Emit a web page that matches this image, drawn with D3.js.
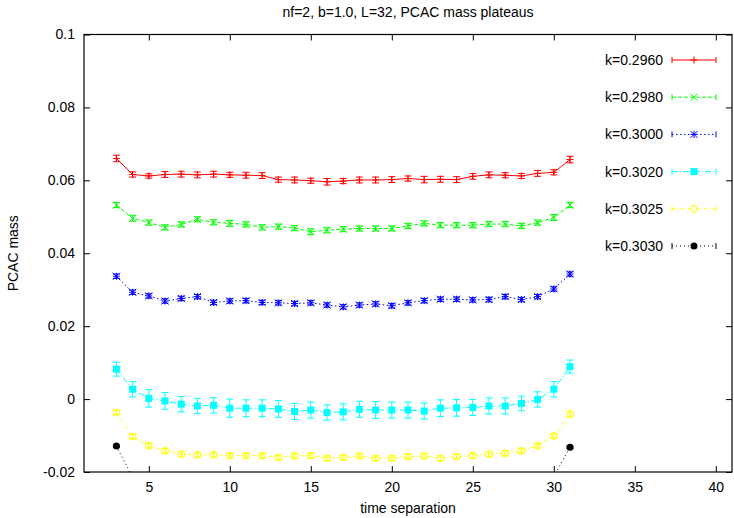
<!doctype html>
<html lang="en">

<head>
    <meta charset="UTF-8" />
    <title>PCAC mass plateaus</title>
    <script src="https://d3js.org/d3.v7.min.js"></script>
    <style>
        body,
        html {
            margin: 0;
            padding: 0;
            background: #ffffff;
        }

        svg {
            display: block;
            font-family: "Liberation Sans", Arial, sans-serif;
        }

        .axis text {
            font-size: 14px;
            fill: #000;
        }

        .axis line {
            stroke: #000;
        }
    </style>
</head>

<body>
    <svg id="chart" width="734" height="518"></svg>
    <script>
        // time separations
        const times = [3, 4, 5, 6, 7, 8, 9, 10, 11, 12, 13, 14, 15, 16, 17, 18, 19, 20, 21, 22, 23, 24, 25, 26, 27, 28, 29, 30, 31];

        const m2960 = [0.0660, 0.0616, 0.0612, 0.0616, 0.0617, 0.0615, 0.0617, 0.0615, 0.0614, 0.0613, 0.0602, 0.0601, 0.0599, 0.0596, 0.0598,
            0.0601, 0.0601, 0.0602, 0.0605, 0.0602, 0.0603, 0.0602, 0.0611, 0.0615, 0.0614, 0.0612, 0.0619, 0.0622, 0.0657];
        const e2960 = [0.0009, 0.0007, 0.0006, 0.0008, 0.0008, 0.0008, 0.0008, 0.0007, 0.0008, 0.0008, 0.0007, 0.0008, 0.0007, 0.0009, 0.0007,
            0.0008, 0.0008, 0.0008, 0.0007, 0.0009, 0.0008, 0.0008, 0.0008, 0.0008, 0.0007, 0.0007, 0.0008, 0.0007, 0.0009];

        const m2980 = [0.0532, 0.0496, 0.0484, 0.0471, 0.0479, 0.0493, 0.0485, 0.0482, 0.0479, 0.0471, 0.0473, 0.0469, 0.0459, 0.0463, 0.0466,
            0.0468, 0.0468, 0.0468, 0.0475, 0.0482, 0.0477, 0.0477, 0.0477, 0.0480, 0.0480, 0.0475, 0.0484, 0.0498, 0.0532];
        const e2980 = [0.0007, 0.0008, 0.0007, 0.0007, 0.0007, 0.0007, 0.0007, 0.0008, 0.0007, 0.0007, 0.0007, 0.0007, 0.0008, 0.0007, 0.0007,
            0.0007, 0.0007, 0.0007, 0.0007, 0.0007, 0.0007, 0.0007, 0.0007, 0.0007, 0.0007, 0.0007, 0.0007, 0.0008, 0.0007];

        const m3000 = [0.0337, 0.0293, 0.0283, 0.0269, 0.0276, 0.0281, 0.0265, 0.0269, 0.0270, 0.0265, 0.0264, 0.0262, 0.0264, 0.0258, 0.0253,
            0.0258, 0.0261, 0.0256, 0.0264, 0.0270, 0.0274, 0.0274, 0.0272, 0.0273, 0.0281, 0.0273, 0.0281, 0.0302, 0.0343];
        const e3000 = [0.0006, 0.0006, 0.0006, 0.0006, 0.0006, 0.0006, 0.0006, 0.0006, 0.0006, 0.0006, 0.0006, 0.0006, 0.0006, 0.0006, 0.0006,
            0.0006, 0.0006, 0.0006, 0.0006, 0.0006, 0.0006, 0.0006, 0.0006, 0.0006, 0.0006, 0.0006, 0.0006, 0.0006, 0.0006];

        const m3020 = [0.0082, 0.0027, 0.0002, -0.0005, -0.0014, -0.0019, -0.0017, -0.0025, -0.0025, -0.0025, -0.0027, -0.0034, -0.0030, -0.0037, -0.0035,
            -0.0028, -0.0030, -0.0030, -0.0030, -0.0033, -0.0025, -0.0024, -0.0023, -0.0019, -0.0019, -0.0012, -0.0001, 0.0027, 0.0089];
        const e3020 = [0.0019, 0.0021, 0.0024, 0.0023, 0.0021, 0.0021, 0.0021, 0.0025, 0.0023, 0.0023, 0.0023, 0.0022, 0.0022, 0.0021, 0.0022,
            0.0022, 0.0023, 0.0022, 0.0022, 0.0022, 0.0023, 0.0023, 0.0022, 0.0022, 0.0022, 0.0020, 0.0021, 0.0021, 0.0018];

        const m3025 = [-0.0037, -0.0103, -0.0128, -0.0142, -0.0151, -0.0153, -0.0153, -0.0155, -0.0155, -0.0155, -0.0160, -0.0156, -0.0155, -0.0162, -0.0160,
            -0.0156, -0.0162, -0.0162, -0.0158, -0.0156, -0.0162, -0.0158, -0.0155, -0.0151, -0.0149, -0.0142, -0.0128, -0.0101, -0.0041];
        const e3025 = [0.0006, 0.0006, 0.0006, 0.0006, 0.0006, 0.0006, 0.0006, 0.0006, 0.0006, 0.0006, 0.0006, 0.0006, 0.0006, 0.0006, 0.0006,
            0.0006, 0.0006, 0.0006, 0.0006, 0.0006, 0.0006, 0.0006, 0.0006, 0.0006, 0.0006, 0.0006, 0.0006, 0.0006, 0.0006];

        // k=0.3030 only shows at the ends, the rest falls below the plot
        const times3030 = [3, 4, 30, 31];
        const m3030 = [-0.0129, -0.0215, -0.0212, -0.0132];
        const e3030 = [0.0003, 0.0003, 0.0003, 0.0003];

        const xTicks = [5, 10, 15, 20, 25, 30, 35, 40];
        const yTicks = [-0.02, 0, 0.02, 0.04, 0.06, 0.08, 0.1];

        const series = [
            { label: "k=0.2960", t: times, m: m2960, e: e2960, color: "#ff0000", dash: null, mark: "plus" },
            { label: "k=0.2980", t: times, m: m2980, e: e2980, color: "#00ff00", dash: "4,2", mark: "cross" },
            { label: "k=0.3000", t: times, m: m3000, e: e3000, color: "#0000ff", dash: "1.5,2.5", mark: "star" },
            { label: "k=0.3020", t: times, m: m3020, e: e3020, color: "#00ffff", dash: "6,2,1,2", mark: "box" },
            { label: "k=0.3025", t: times, m: m3025, e: e3025, color: "#ffff00", dash: "3,2,1,2", mark: "circle" },
            { label: "k=0.3030", t: times3030, m: m3030, e: e3030, color: "#000000", dash: "1,3", mark: "dot" }
        ];

        const svg = d3.select("#chart");
        const plotLeft = 84, plotRight = 732, plotTop = 34.5, plotBottom = 472;

        const x = d3.scaleLinear().domain([1, 41]).range([plotLeft, plotRight]);
        const y = d3.scaleLinear().domain([-0.02, 0.1]).range([plotBottom, plotTop]);

        const fmt = d => d === 0 ? "0" : String(+d.toFixed(2));

        // axes, ticks point inwards
        svg.append("g").attr("class", "axis")
            .attr("transform", `translate(0,${plotBottom})`)
            .call(d3.axisBottom(x).tickValues(xTicks).tickSize(-6).tickPadding(10).tickFormat(d => d));
        svg.append("g").attr("class", "axis")
            .attr("transform", `translate(0,${plotTop})`)
            .call(d3.axisTop(x).tickValues(xTicks).tickSize(-6).tickFormat(""));
        svg.append("g").attr("class", "axis")
            .attr("transform", `translate(${plotLeft},0)`)
            .call(d3.axisLeft(y).tickValues(yTicks).tickSize(-6).tickPadding(9).tickFormat(fmt));
        svg.append("g").attr("class", "axis")
            .attr("transform", `translate(${plotRight},0)`)
            .call(d3.axisRight(y).tickValues(yTicks).tickSize(-6).tickFormat(""));
        svg.selectAll(".axis .domain").remove();
        svg.selectAll(".axis").attr("font-family", null).attr("font-size", null);

        svg.append("rect")
            .attr("x", plotLeft).attr("y", plotTop)
            .attr("width", plotRight - plotLeft).attr("height", plotBottom - plotTop)
            .attr("fill", "none").attr("stroke", "#000").attr("stroke-width", 1.2);

        svg.append("text")
            .attr("x", (plotLeft + plotRight) / 2).attr("y", 17)
            .attr("text-anchor", "middle").attr("font-size", 14)
            .text("nf=2, b=1.0, L=32, PCAC mass plateaus");

        svg.append("text")
            .attr("x", (plotLeft + plotRight) / 2).attr("y", 513)
            .attr("text-anchor", "middle").attr("font-size", 14)
            .text("time separation");

        svg.append("text")
            .attr("transform", `translate(18,${(plotTop + plotBottom) / 2}) rotate(-90)`)
            .attr("text-anchor", "middle").attr("font-size", 14)
            .text("PCAC mass");

        svg.append("clipPath").attr("id", "plotclip")
            .append("rect")
            .attr("x", plotLeft).attr("y", plotTop)
            .attr("width", plotRight - plotLeft).attr("height", plotBottom - plotTop);

        const plot = svg.append("g").attr("clip-path", "url(#plotclip)");

        function drawMark(g, type, cx, cy, color) {
            const s = 3.5;
            if (type === "plus" || type === "star") {
                g.append("path").attr("d", `M${cx - s},${cy}H${cx + s}M${cx},${cy - s}V${cy + s}`)
                    .attr("stroke", color).attr("fill", "none");
            }
            if (type === "cross" || type === "star") {
                g.append("path").attr("d", `M${cx - s},${cy - s}L${cx + s},${cy + s}M${cx - s},${cy + s}L${cx + s},${cy - s}`)
                    .attr("stroke", color).attr("fill", "none");
            }
            if (type === "box") {
                g.append("rect").attr("x", cx - s).attr("y", cy - s)
                    .attr("width", 2 * s).attr("height", 2 * s).attr("fill", color);
            }
            if (type === "circle") {
                g.append("circle").attr("cx", cx).attr("cy", cy).attr("r", s)
                    .attr("fill", "none").attr("stroke", color);
            }
            if (type === "dot") {
                g.append("circle").attr("cx", cx).attr("cy", cy).attr("r", s).attr("fill", color);
            }
        }

        const line = d3.line();
        const cap = 3.5;

        series.forEach(s => {
            const g = plot.append("g");
            const pts = s.t.map((t, i) => [x(t), y(s.m[i]), y(s.m[i] - s.e[i]), y(s.m[i] + s.e[i])]);

            g.append("path")
                .attr("d", line(pts.map(p => [p[0], p[1]])))
                .attr("fill", "none").attr("stroke", s.color).attr("stroke-width", 1)
                .attr("stroke-dasharray", s.dash);

            pts.forEach(p => {
                g.append("path")
                    .attr("d", `M${p[0]},${p[2]}V${p[3]}M${p[0] - cap},${p[2]}H${p[0] + cap}M${p[0] - cap},${p[3]}H${p[0] + cap}`)
                    .attr("stroke", s.color).attr("fill", "none").attr("stroke-width", 1);
                drawMark(g, s.mark, p[0], p[1], s.color);
            });
        });

        // legend
        const legend = svg.append("g");
        series.forEach((s, i) => {
            const ly = 60 + i * 37.2;
            legend.append("text")
                .attr("x", 663).attr("y", ly + 5)
                .attr("text-anchor", "end").attr("font-size", 14)
                .text(s.label);
            legend.append("path")
                .attr("d", `M672,${ly}H716`)
                .attr("stroke", s.color).attr("fill", "none").attr("stroke-dasharray", s.dash);
            legend.append("path")
                .attr("d", `M672,${ly - 3}V${ly + 3}M716,${ly - 3}V${ly + 3}`)
                .attr("stroke", s.color).attr("fill", "none");
            drawMark(legend, s.mark, 694, ly, s.color);
        });
    </script>
</body>

</html>
